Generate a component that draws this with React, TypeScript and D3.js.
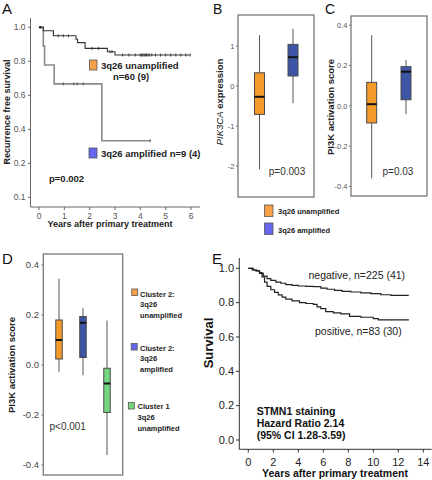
import React from "react";
import * as d3 from "d3";

const FONT = "'Liberation Sans', Arial, sans-serif";

// ---------- Panel A data (Kaplan-Meier, 3q26) ----------
const aXTicks = [0, 1, 2, 3, 4, 5, 6];
const aYTickValues = [0, 0.2, 0.4, 0.6, 0.8, 1.0];
const aYTickLabels = ["0.1", "0.2", "0.4", "0.6", "0.8", "1.0"];
const unampTimes = [0.05, 0.17, 0.57, 1.46, 1.52, 1.82, 2.7, 3.0, 5.97];
const unampSurv = [1.0, 0.98, 0.95, 0.93, 0.91, 0.876, 0.856, 0.837, 0.837];
const unampCensor = [0.76, 0.96, 1.16, 2.1, 2.35, 2.8, 2.88, 3.3, 3.55, 3.8, 4.0, 4.05, 4.1, 4.15, 4.2, 4.25, 4.3, 4.35, 4.45, 4.6, 4.8, 5.0, 5.2, 5.4, 5.6, 5.8, 5.97];
const ampTimes = [0.1, 0.17, 0.22, 0.6, 2.48, 4.39];
const ampSurv = [1.0, 0.889, 0.778, 0.667, 0.333, 0.333];
const ampCensor = [0.96, 1.38, 1.51, 1.75, 4.39];

// ---------- Panel B / C / D data (boxplots) ----------
const bcCategories = ["3q26 unamplified", "3q26 amplified"];
const bBoxes = [
  { min: -2.08, q1: -0.71, med: -0.27, q3: 0.33, max: 1.27 },
  { min: -0.43, q1: 0.25, med: 0.72, q3: 1.04, max: 1.43 },
];
const bTicks = [-2, -1, 0, 1];
const cBoxes = [
  { min: -0.36, q1: -0.085, med: 0.008, q3: 0.116, max: 0.35 },
  { min: -0.041, q1: 0.03, med: 0.169, q3: 0.194, max: 0.227 },
];
const cTicks = [-0.4, -0.2, 0.0, 0.2, 0.4];
const dCategories = ["Cluster 2: 3q26 unamplified", "Cluster 2: 3q26 amplified", "Cluster 1 3q26 unamplified"];
const dBoxes = [
  { min: -0.027, q1: 0.024, med: 0.1, q3: 0.18, max: 0.345 },
  { min: -0.041, q1: 0.03, med: 0.169, q3: 0.194, max: 0.227 },
  { min: -0.36, q1: -0.19, med: -0.074, q3: -0.013, max: 0.178 },
];
const dTicks = [-0.4, -0.2, 0.0, 0.2, 0.4];

// ---------- Panel E data (STMN1) ----------
const eXTicks = [0, 2, 4, 6, 8, 10, 12, 14];
const eYTicks = [0, 0.2, 0.4, 0.6, 0.8, 1.0];
const negTimes = [0, 0.3, 0.6, 0.9, 1.2, 1.5, 1.8, 2.2, 2.6, 3.0, 3.5, 4.0, 4.6, 5.2, 5.8, 6.3, 6.9, 7.5, 8.2, 9.0, 9.8, 10.6, 11.4, 12.8];
const negSurv = [1.0, 0.99, 0.985, 0.97, 0.955, 0.94, 0.93, 0.92, 0.913, 0.905, 0.9, 0.897, 0.895, 0.893, 0.885, 0.878, 0.872, 0.866, 0.862, 0.857, 0.852, 0.846, 0.842, 0.84];
const posTimes = [0, 0.4, 0.7, 0.9, 1.1, 1.3, 1.5, 1.8, 2.1, 2.4, 2.7, 3.0, 3.5, 4.1, 4.6, 5.2, 5.5, 5.8, 6.2, 6.8, 7.4, 8.1, 9.0, 10.0, 10.4, 12.8];
const posSurv = [1.0, 0.99, 0.985, 0.975, 0.95, 0.92, 0.895, 0.875, 0.86, 0.845, 0.832, 0.82, 0.81, 0.8, 0.795, 0.79, 0.775, 0.765, 0.748, 0.74, 0.735, 0.72, 0.715, 0.707, 0.7, 0.696];

const ORANGE = "#F49B2C";
const BLUE = "#3D55A7";
const GREEN = "#74D681";
const LEG_ORANGE = "#F7A04A";
const LEG_BLUE = "#6666EE";

function survAt(times: number[], surv: number[], t: number) {
  const i = d3.bisectRight(times, t) - 1;
  return surv[Math.max(0, i)];
}

function stepPath(times: number[], surv: number[], x: any, y: any) {
  const pts = times.map((t, i) => [t, surv[i]] as [number, number]);
  return d3
    .line<[number, number]>()
    .x((d) => x(d[0]))
    .y((d) => y(d[1]))
    .curve(d3.curveStepAfter)(pts) as string;
}

type Box = { min: number; q1: number; med: number; q3: number; max: number };

function BoxPlot({ box, cx, w, y, fill }: { box: Box; cx: number; w: number; y: any; fill: string }) {
  return (
    <g>
      <line x1={cx} x2={cx} y1={y(box.max)} y2={y(box.q3)} stroke="#555" strokeWidth={1} />
      <line x1={cx} x2={cx} y1={y(box.q1)} y2={y(box.min)} stroke="#555" strokeWidth={1} />
      <rect x={cx - w / 2} y={y(box.q3)} width={w} height={y(box.q1) - y(box.q3)} fill={fill} stroke="#4a4a4a" strokeWidth={1} />
      <line x1={cx - w / 2} x2={cx + w / 2} y1={y(box.med)} y2={y(box.med)} stroke="#111" strokeWidth={2} />
    </g>
  );
}

function PanelA() {
  const x = d3.scaleLinear().domain([0, 6]).range([39, 191]);
  const y = d3.scaleLinear().domain([0.2, 1.0]).range([163.3, 27.3]);
  const axisColor = "#666";
  return (
    <g fontFamily={FONT}>
      <text x={2} y={14} fontSize={15} fill="#111">A</text>
      <line x1={30.5} x2={30.5} y1={18} y2={207} stroke={axisColor} />
      <line x1={30.5} x2={200} y1={207} y2={207} stroke={axisColor} />
      {aYTickValues.map((v, i) => (
        <g key={v}>
          <line x1={28} x2={30.5} y1={y(v)} y2={y(v)} stroke={axisColor} />
          <text x={25.5} y={y(v) + 3} fontSize={8.5} textAnchor="end" fill="#555">{aYTickLabels[i]}</text>
        </g>
      ))}
      {aXTicks.map((t) => (
        <g key={t}>
          <line x1={x(t)} x2={x(t)} y1={207} y2={210} stroke={axisColor} />
          <text x={x(t)} y={218.5} fontSize={8.5} textAnchor="middle" fill="#555">{t}</text>
        </g>
      ))}
      <text transform={`translate(10,112) rotate(-90)`} fontSize={9} fontWeight="bold" textAnchor="middle" fill="#222">Recurrence free survival</text>
      <text x={110} y={227} fontSize={9} fontWeight="bold" textAnchor="middle" fill="#222">Years after primary treatment</text>
      {/* curves */}
      <path d={stepPath(ampTimes, ampSurv, x, y)} fill="none" stroke="#8a8a8a" strokeWidth={1.6} />
      <path d={stepPath(unampTimes, unampSurv, x, y)} fill="none" stroke="#333" strokeWidth={1.1} />
      {unampCensor.map((t, i) => (
        <line key={"u" + i} x1={x(t)} x2={x(t)} y1={y(survAt(unampTimes, unampSurv, t)) - 1.5} y2={y(survAt(unampTimes, unampSurv, t)) + 1.5} stroke="#333" strokeWidth={0.9} />
      ))}
      {ampCensor.map((t, i) => (
        <line key={"a" + i} x1={x(t)} x2={x(t)} y1={y(survAt(ampTimes, ampSurv, t)) - 1.5} y2={y(survAt(ampTimes, ampSurv, t)) + 1.5} stroke="#555" strokeWidth={0.9} />
      ))}
      <circle cx={x(unampTimes[0])} cy={y(unampSurv[0])} r={1.4} fill="#222" />
      {/* legend */}
      <rect x={89.5} y={60} width={7.5} height={10} fill={LEG_ORANGE} stroke="#555" strokeWidth={0.8} />
      <text x={101} y={68.5} fontSize={9.5} fontWeight="bold" fill="#222">3q26 unamplified</text>
      <text x={113} y={80} fontSize={9.5} fontWeight="bold" fill="#222">n=60 (9)</text>
      <rect x={89} y={148} width={8} height={10} fill={LEG_BLUE} stroke="#555" strokeWidth={0.8} />
      <text x={101} y={157} fontSize={9.5} fontWeight="bold" fill="#222">3q26 amplified n=9 (4)</text>
      <text x={49} y={182} fontSize={9.5} fontWeight="bold" fill="#222">p=0.002</text>
    </g>
  );
}

function PanelB() {
  const y = d3.scaleLinear().domain([-2.775, 1.775]).range([197, 15]);
  const x = d3.scalePoint<string>().domain(bcCategories).range([259.5, 293]);
  const colors = [ORANGE, BLUE];
  return (
    <g fontFamily={FONT}>
      <text x={213} y={13.5} fontSize={14} fill="#111">B</text>
      <rect x={238} y={15} width={76} height={182} fill="none" stroke="#777" strokeWidth={1.3} />
      {bTicks.map((v) => (
        <g key={v}>
          <line x1={236} x2={238} y1={y(v)} y2={y(v)} stroke="#777" />
          <text x={234.5} y={y(v) + 2.8} fontSize={7.5} textAnchor="end" fill="#555">{v}</text>
        </g>
      ))}
      {bBoxes.map((b, i) => (
        <BoxPlot key={i} box={b} cx={x(bcCategories[i]) as number} w={10} y={y} fill={colors[i]} />
      ))}
      <text transform={`translate(223,102) rotate(-90)`} fontSize={9.5} textAnchor="middle" fill="#222">
        <tspan fontStyle="italic">PIK3CA</tspan>
        <tspan fontWeight="bold"> expression</tspan>
      </text>
      <text x={287} y={175} fontSize={10} textAnchor="middle" fill="#333">p=0.003</text>
    </g>
  );
}

function PanelC() {
  const y = d3.scaleLinear().domain([-0.447, 0.445]).range([196, 16]);
  const x = d3.scalePoint<string>().domain(bcCategories).range([371.7, 406]);
  const colors = [ORANGE, BLUE];
  return (
    <g fontFamily={FONT}>
      <text x={325} y={13.5} fontSize={14} fill="#111">C</text>
      <rect x={351} y={16} width={76} height={180} fill="none" stroke="#777" strokeWidth={1.3} />
      {cTicks.map((v) => (
        <g key={v}>
          <line x1={349} x2={351} y1={y(v)} y2={y(v)} stroke="#777" />
          <text x={347.5} y={y(v) + 2.8} fontSize={7.5} textAnchor="end" fill="#555">{v.toFixed(1)}</text>
        </g>
      ))}
      {cBoxes.map((b, i) => (
        <BoxPlot key={i} box={b} cx={x(bcCategories[i]) as number} w={10} y={y} fill={colors[i]} />
      ))}
      <text transform={`translate(333.5,107) rotate(-90)`} fontSize={9.5} fontWeight="bold" textAnchor="middle" fill="#222">PI3K activation score</text>
      <text x={398} y={175} fontSize={10} textAnchor="middle" fill="#333">p=0.03</text>
      {/* shared legend */}
      <rect x={264.5} y={205} width={8.5} height={11.5} fill={LEG_ORANGE} stroke="#555" strokeWidth={0.8} />
      <text x={278} y={214} fontSize={7.5} fontWeight="bold" fill="#222">{bcCategories[0]}</text>
      <rect x={264.5} y={223} width={8.5} height={11.5} fill={LEG_BLUE} stroke="#555" strokeWidth={0.8} />
      <text x={278} y={232.5} fontSize={7.5} fontWeight="bold" fill="#222">{bcCategories[1]}</text>
    </g>
  );
}

function PanelD() {
  const y = d3.scaleLinear().domain([-0.44, 0.444]).range([475, 254]);
  const x = d3.scalePoint<string>().domain(dCategories).range([59, 107]);
  const colors = [ORANGE, BLUE, GREEN];
  const legendFills = [LEG_ORANGE, LEG_BLUE, GREEN];
  const legendLines = [
    ["Cluster 2:", "3q26", "unamplified"],
    ["Cluster 2:", "3q26", "amplified"],
    ["Cluster 1", "3q26", "unamplified"],
  ];
  const legendPos = [
    { sx: 131.7, sy: 289, tx: 140, ty: 296.5 },
    { sx: 131.2, sy: 343.5, tx: 140, ty: 350.5 },
    { sx: 128.3, sy: 402.5, tx: 137.5, ty: 409 },
  ];
  return (
    <g fontFamily={FONT}>
      <text x={2} y={264} fontSize={15} fill="#111">D</text>
      <rect x={43.3} y={254} width={79.4} height={221} fill="none" stroke="#777" strokeWidth={1.3} />
      {dTicks.map((v) => (
        <g key={v}>
          <line x1={41.3} x2={43.3} y1={y(v)} y2={y(v)} stroke="#777" />
          <text x={39} y={y(v) + 3.3} fontSize={9.5} textAnchor="end" fill="#444">{v.toFixed(1)}</text>
        </g>
      ))}
      {dBoxes.map((b, i) => (
        <BoxPlot key={i} box={b} cx={x(dCategories[i]) as number} w={6.5} y={y} fill={colors[i]} />
      ))}
      <text transform={`translate(14.5,365) rotate(-90)`} fontSize={9.5} fontWeight="bold" textAnchor="middle" fill="#222">PI3K activation score</text>
      <text x={49.5} y={430} fontSize={10} fill="#333">p&lt;0.001</text>
      {legendLines.map((lines, i) => (
        <g key={i}>
          <rect x={legendPos[i].sx} y={legendPos[i].sy} width={6} height={6.5} fill={legendFills[i]} stroke="#555" strokeWidth={0.8} />
          {lines.map((l, j) => (
            <text key={j} x={legendPos[i].tx} y={legendPos[i].ty + j * 10.8} fontSize={7.5} fontWeight="bold" fill="#222">{l}</text>
          ))}
        </g>
      ))}
    </g>
  );
}

function PanelE() {
  const x = d3.scaleLinear().domain([0, 14]).range([248.3, 423.3]);
  const y = d3.scaleLinear().domain([0, 1]).range([440, 268.3]);
  return (
    <g fontFamily={FONT}>
      <text x={212} y={264} fontSize={15} fill="#111">E</text>
      <line x1={239.3} x2={239.3} y1={258} y2={449.3} stroke="#333" />
      <line x1={239.3} x2={431.7} y1={449.3} y2={449.3} stroke="#333" />
      {eYTicks.map((v) => (
        <g key={v}>
          <line x1={236} x2={239.3} y1={y(v)} y2={y(v)} stroke="#333" />
          <text x={234} y={y(v) + 3.8} fontSize={11} textAnchor="end" fill="#222">{v.toFixed(1)}</text>
        </g>
      ))}
      {eXTicks.map((t) => (
        <g key={t}>
          <line x1={x(t)} x2={x(t)} y1={449.3} y2={452.5} stroke="#333" />
          <text x={x(t)} y={465.5} fontSize={11} textAnchor="middle" fill="#222">{t}</text>
        </g>
      ))}
      <text x={335} y={477} fontSize={10.5} fontWeight="bold" textAnchor="middle" fill="#111">Years after primary treatment</text>
      <text transform={`translate(212.5,343) rotate(-90)`} fontSize={13} fontWeight="bold" textAnchor="middle" fill="#111">Survival</text>
      <path d={stepPath(negTimes, negSurv, x, y)} fill="none" stroke="#222" strokeWidth={1.2} />
      <path d={stepPath(posTimes, posSurv, x, y)} fill="none" stroke="#222" strokeWidth={1.2} />
      <text x={308.5} y={278.5} fontSize={10.5} fill="#222">negative, n=225 (41)</text>
      <text x={315} y={335} fontSize={10.5} fill="#222">positive, n=83 (30)</text>
      <text x={256.7} y={415} fontSize={10.5} fontWeight="bold" fill="#111">STMN1 staining</text>
      <text x={256.7} y={427} fontSize={10.5} fontWeight="bold" fill="#111">Hazard Ratio 2.14</text>
      <text x={256.7} y={439} fontSize={10.5} fontWeight="bold" fill="#111">(95% CI 1.28-3.59)</text>
    </g>
  );
}

export default function App() {
  return (
    <svg
      width={432}
      height={480}
      viewBox="0 0 432 480"
      style={{ position: "absolute", left: 0, top: 0, background: "#fff" }}
    >
      <rect width={432} height={480} fill="#fff" />
      <PanelA />
      <PanelB />
      <PanelC />
      <PanelD />
      <PanelE />
    </svg>
  );
}
